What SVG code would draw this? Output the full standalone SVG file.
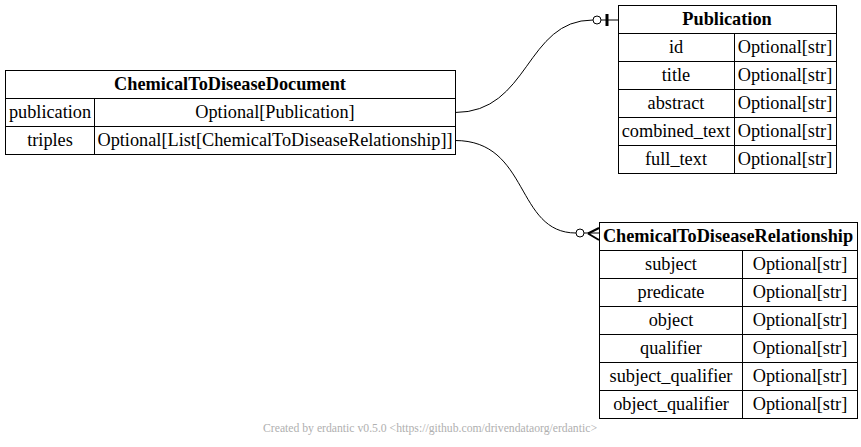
<svg xmlns="http://www.w3.org/2000/svg" width="861" height="447" viewBox="0 0 861 447">
<style>
.cell{fill:#fff;stroke:#000;stroke-width:1}
.t{font-family:"Liberation Serif","Times New Roman","DejaVu Serif",serif;font-size:18.3px;fill:#000;text-anchor:middle}
.h{font-weight:bold}
.edge{fill:none;stroke:#000;stroke-width:1}
.foot{font-family:"Liberation Serif","Times New Roman","DejaVu Serif",serif;font-size:11.7px;fill:#b0b0b0;text-anchor:middle}
</style>
<rect width="861" height="447" fill="#fff"/>
<g id="ChemicalToDiseaseDocument">
<rect class="cell" x="5.5" y="70.5" width="450" height="28"/>
<rect class="cell" x="5.5" y="98.5" width="89" height="28"/>
<rect class="cell" x="94.5" y="98.5" width="361" height="28"/>
<rect class="cell" x="5.5" y="126.5" width="89" height="28"/>
<rect class="cell" x="94.5" y="126.5" width="361" height="28"/>
<text class="t h" x="230" y="90">ChemicalToDiseaseDocument</text>
<text class="t" x="50" y="118">publication</text>
<text class="t" x="275" y="118">Optional[Publication]</text>
<text class="t" x="50" y="146">triples</text>
<text class="t" x="275" y="146">Optional[List[ChemicalToDiseaseRelationship]]</text>
</g>
<g id="Publication">
<rect class="cell" x="618.5" y="5.5" width="218" height="28"/>
<rect class="cell" x="618.5" y="33.5" width="116" height="28"/>
<rect class="cell" x="734.5" y="33.5" width="102" height="28"/>
<rect class="cell" x="618.5" y="61.5" width="116" height="28"/>
<rect class="cell" x="734.5" y="61.5" width="102" height="28"/>
<rect class="cell" x="618.5" y="89.5" width="116" height="28"/>
<rect class="cell" x="734.5" y="89.5" width="102" height="28"/>
<rect class="cell" x="618.5" y="117.5" width="116" height="28"/>
<rect class="cell" x="734.5" y="117.5" width="102" height="28"/>
<rect class="cell" x="618.5" y="145.5" width="116" height="28"/>
<rect class="cell" x="734.5" y="145.5" width="102" height="28"/>
<text class="t h" x="727" y="25">Publication</text>
<text class="t" x="676" y="53">id</text>
<text class="t" x="785" y="53">Optional[str]</text>
<text class="t" x="676" y="81">title</text>
<text class="t" x="785" y="81">Optional[str]</text>
<text class="t" x="676" y="109">abstract</text>
<text class="t" x="785" y="109">Optional[str]</text>
<text class="t" x="676" y="137">combined_text</text>
<text class="t" x="785" y="137">Optional[str]</text>
<text class="t" x="676" y="165">full_text</text>
<text class="t" x="785" y="165">Optional[str]</text>
</g>
<g id="ChemicalToDiseaseRelationship">
<rect class="cell" x="599.5" y="222.5" width="258" height="28"/>
<rect class="cell" x="599.5" y="250.5" width="143" height="28"/>
<rect class="cell" x="742.5" y="250.5" width="115" height="28"/>
<rect class="cell" x="599.5" y="278.5" width="143" height="28"/>
<rect class="cell" x="742.5" y="278.5" width="115" height="28"/>
<rect class="cell" x="599.5" y="306.5" width="143" height="28"/>
<rect class="cell" x="742.5" y="306.5" width="115" height="28"/>
<rect class="cell" x="599.5" y="334.5" width="143" height="28"/>
<rect class="cell" x="742.5" y="334.5" width="115" height="28"/>
<rect class="cell" x="599.5" y="362.5" width="143" height="28"/>
<rect class="cell" x="742.5" y="362.5" width="115" height="28"/>
<rect class="cell" x="599.5" y="390.5" width="143" height="28"/>
<rect class="cell" x="742.5" y="390.5" width="115" height="28"/>
<text class="t h" x="728" y="242">ChemicalToDiseaseRelationship</text>
<text class="t" x="671" y="270">subject</text>
<text class="t" x="800" y="270">Optional[str]</text>
<text class="t" x="671" y="298">predicate</text>
<text class="t" x="800" y="298">Optional[str]</text>
<text class="t" x="671" y="326">object</text>
<text class="t" x="800" y="326">Optional[str]</text>
<text class="t" x="671" y="354">qualifier</text>
<text class="t" x="800" y="354">Optional[str]</text>
<text class="t" x="671" y="382">subject_qualifier</text>
<text class="t" x="800" y="382">Optional[str]</text>
<text class="t" x="671" y="410">object_qualifier</text>
<text class="t" x="800" y="410">Optional[str]</text>
</g>
<g id="connectors">
<path class="edge" d="M455,112.5 C530,112.5 525,20 593,20"/>
<circle class="edge" cx="597" cy="20" r="4"/>
<line x1="601" y1="20" x2="618" y2="20" stroke="#000" stroke-width="1"/>
<line x1="607" y1="14" x2="607" y2="26" stroke="#000" stroke-width="3"/>
<path class="edge" d="M455,140.5 C530,140.5 515,233 576,233"/>
<circle class="edge" cx="580" cy="233" r="4"/>
<path class="edge" d="M584,233 L599,233"/>
<path class="edge" style="stroke-width:2" d="M588,233.5 L599,228 M588,233.5 L599,240"/>
</g>
<text class="foot" x="430" y="432">Created by erdantic v0.5.0 &lt;https://github.com/drivendataorg/erdantic&gt;</text>
</svg>
